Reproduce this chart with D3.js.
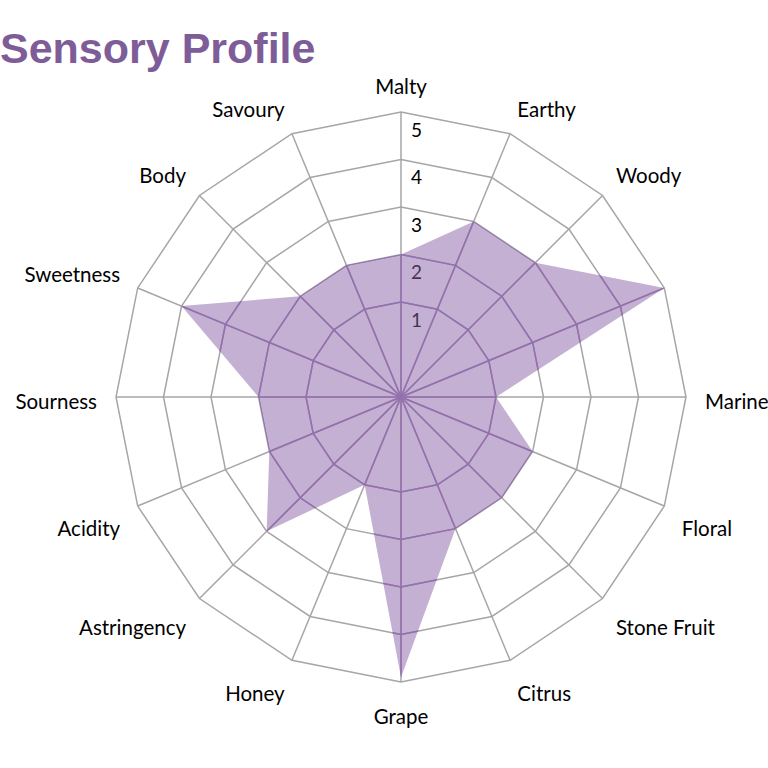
<!DOCTYPE html>
<html>

<head>
    <meta charset="utf-8">
    <style>
        body {
            margin: 0;
            background: #fff;
        }

        svg {
            display: block;
        }

        .title {
            font-family: 'Liberation Sans', Arial, sans-serif;
            font-weight: bold;
            font-size: 43px;
            fill: #7e5c98;
        }

        .axis-label {
            font-family: Lato, 'Open Sans', sans-serif;
            font-size: 20.5px;
            fill: #000;
        }

        .tick-label {
            font-family: Lato, 'Open Sans', sans-serif;
            font-size: 19px;
            fill: #000;
        }
    </style>
</head>

<body>
    <svg width="768" height="768"></svg>
</body>

<script src="https://d3js.org/d3.v7.min.js"></script>

<script>
    // categories going clockwise from the top (one slot has no name in the original)
    const categories = ["Malty", "Earthy", "Woody", "", "Marine", "Floral", "Stone Fruit", "Citrus",
        "Grape", "Honey", "Astringency", "Acidity", "Sourness", "Sweetness", "Body", "Savoury"];
    const values = [2, 3, 3, 5, 1, 2, 2, 2, 4.9, 1, 3, 2, 2, 4, 2, 2];
    const tickValues = [1, 2, 3, 4, 5];
    const tickLabels = ["1", "2", "3", "4", "5"];

    let cx = 401;
    let cy = 397;
    let radius = 285;

    let svg = d3.select("svg");

    svg.append("text")
        .attr("class", "title")
        .attr("x", 0)
        .attr("y", 63)
        .text("Sensory Profile");

    // axis min sits below zero, so ring 1 is well off the centre
    let r = d3.scaleLinear()
        .domain([-1, 5])
        .range([0, radius]);

    let angle = d3.scaleLinear()
        .domain([0, categories.length])
        .range([0, 2 * Math.PI]);

    let chart = svg.append("g")
        .attr("transform", `translate(${cx},${cy})`);

    let ring = d3.lineRadial()
        .angle((d, i) => angle(i))
        .radius(d => r(d))
        .curve(d3.curveLinearClosed);

    function drawGrid(g, colour) {
        g.append("g")
            .selectAll("path")
            .data(tickValues)
            .join("path")
            .attr("d", t => ring(categories.map(() => t)))
            .style("fill", "none")
            .style("stroke", colour)
            .style("stroke-width", "1.5px");

        g.append("g")
            .selectAll("line")
            .data(categories)
            .join("line")
            .attr("x1", 0)
            .attr("y1", 0)
            .attr("x2", (d, i) => r(5) * Math.sin(angle(i)))
            .attr("y2", (d, i) => -r(5) * Math.cos(angle(i)))
            .style("stroke", colour)
            .style("stroke-width", "1.5px");
    }

    drawGrid(chart, "#a6a6a6");

    // value labels on the vertical axis
    chart.append("g")
        .selectAll("text")
        .data(tickValues)
        .join("text")
        .attr("class", "tick-label")
        .attr("x", 10)
        .attr("y", t => -r(t) + 17)
        .attr("dominant-baseline", "central")
        .text((t, i) => tickLabels[i]);

    // the profile itself
    chart.append("clipPath")
        .attr("id", "profile-clip")
        .append("path")
        .datum(values)
        .attr("d", ring);

    chart.append("path")
        .datum(values)
        .attr("d", ring)
        .style("fill", "#8a62a8")
        .style("fill-opacity", 0.5)
        .style("stroke", "none");

    // grid shows through the fill in purple
    let inside = chart.append("g")
        .attr("clip-path", "url(#profile-clip)");
    drawGrid(inside, "#9470ae");

    // category labels: nearest corner of each label sits just outside the outer ring
    let labels = chart.append("g")
        .selectAll("text")
        .data(categories)
        .join("text")
        .attr("class", "axis-label")
        .attr("text-anchor", "middle")
        .attr("dominant-baseline", "central")
        .text(d => d);

    labels.each(function (d, i) {
        let w = this.getComputedTextLength();
        let h = 22;
        let a = angle(i);
        let dx = Math.sin(a);
        let dy = -Math.cos(a);
        let sx = Math.abs(dx) < 0.1 ? 0 : Math.sign(dx);
        let sy = Math.abs(dy) < 0.1 ? 0 : Math.sign(dy);
        let dist = radius + 19;
        d3.select(this)
            .attr("x", dx * dist + sx * w / 2)
            .attr("y", dy * dist + sy * h / 2 + 4);
    });
</script>

</html>
